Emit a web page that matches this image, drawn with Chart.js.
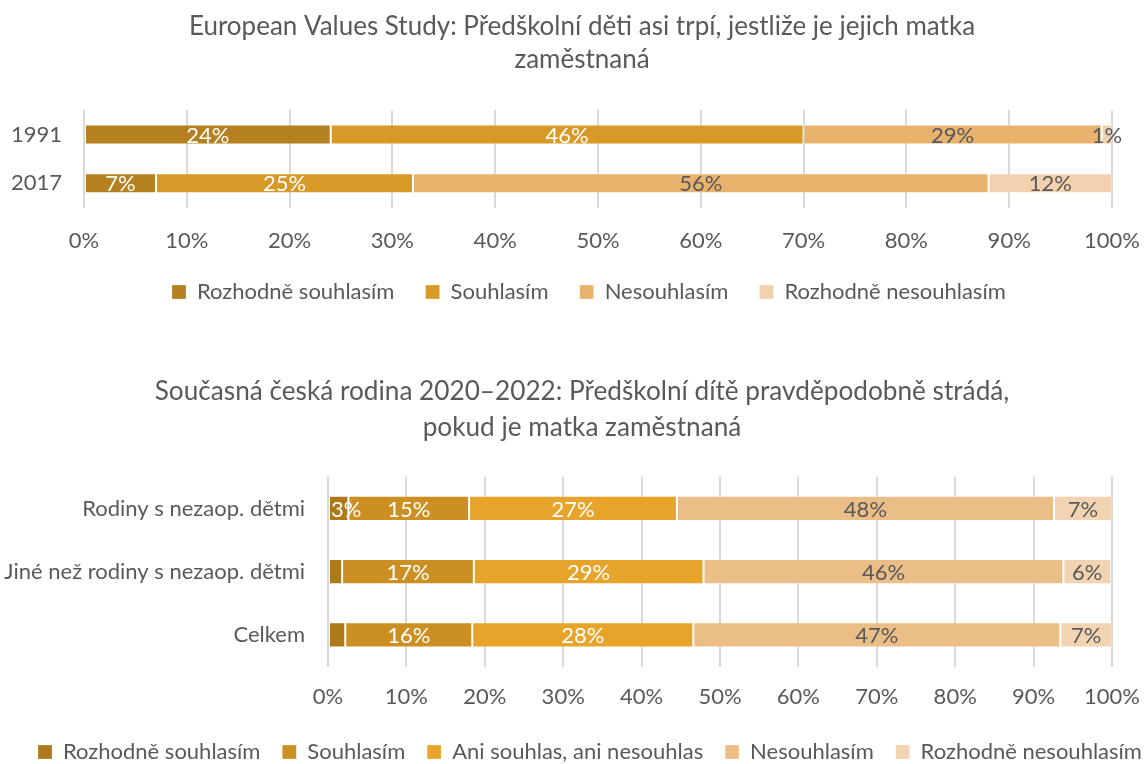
<!DOCTYPE html>
<html>
<head>
<meta charset="utf-8">
<script src="https://cdn.jsdelivr.net/npm/chart.js@4"></script>
<style>
  html, body { margin: 0; background: #fff; overflow: hidden; }
  canvas { display: block; position: absolute; left: 0; }
  #evs { top: 0; }
  #rodina { top: 340px; }
</style>
</head>
<body>
<canvas id="evs" width="1145" height="313"></canvas>
<canvas id="rodina" width="1145" height="433"></canvas>
<script>
// EVS chart
const evsYears = ['1991', '2017'];
const evsSeries = ['Rozhodně souhlasím', 'Souhlasím', 'Nesouhlasím', 'Rozhodně nesouhlasím'];
const evsValues = [
    [24, 7],
    [46, 25],
    [29, 56],
    [1, 12]
];
const evsColors = ['#B5801F', '#D89A26', '#E9B36E', '#F1D1AE'];

// Současná česká rodina chart
const rodGroups = ['Rodiny s nezaop. dětmi', 'Jiné než rodiny s nezaop. dětmi', 'Celkem'];
const rodSeries = ['Rozhodně souhlasím', 'Souhlasím', 'Ani souhlas, ani nesouhlas', 'Nesouhlasím', 'Rozhodně nesouhlasím'];
const rodValues = [
    [2.6, 1.8, 2.2],
    [15.4, 16.8, 16.2],
    [26.5, 29.3, 28.2],
    [48.1, 45.9, 46.8],
    [7.4, 6.1, 6.6]
];
const rodColors = ['#AE791B', '#CB8F22', '#E6A52A', '#EBBE87', '#F2D4B3'];

const xTicks = [0, 10, 20, 30, 40, 50, 60, 70, 80, 90, 100];

const FONT = 'Lato, "Noto Sans", sans-serif';
const GREY = '#595959';

// draws the % labels inside the bar segments
const segmentLabels = {
    id: 'segmentLabels',
    afterDatasetsDraw(chart, args, opts) {
        const ctx = chart.ctx;
        ctx.save();
        ctx.font = '22px ' + FONT;
        ctx.textAlign = 'center';
        ctx.textBaseline = 'middle';
        chart.data.datasets.forEach(function(ds, i) {
            const meta = chart.getDatasetMeta(i);
            meta.data.forEach(function(bar, j) {
                const v = ds.data[j];
                if (v < opts.minValue) return;
                const text = Math.round(v) + '%';
                let x = (bar.x + bar.base) / 2;
                const w = ctx.measureText(text).width;
                // first segment too narrow: keep the label starting at the axis
                if (i === 0 && w > bar.x - bar.base) x = bar.base + w / 2 + 2;
                ctx.fillStyle = i < opts.whiteCount ? '#ffffff' : GREY;
                ctx.fillText(text, x, bar.y + 1);
            });
        });
        ctx.restore();
    }
};

// legend gets a wide box (one row, starting at a fixed x), title is centred a bit right
const boxShift = {
    id: 'boxShift',
    afterInit(chart) {
        const legend = chart.legend;
        const fit = legend.fit;
        legend.fit = function() {
            const mw = this.maxWidth;
            this.maxWidth = chart.width + 200;
            fit.call(this);
            this.maxWidth = mw;
        };
    },
    afterLayout(chart, args, opts) {
        chart.titleBlock.left += opts.title;
        chart.titleBlock.right += opts.title;
        chart.legend.left = opts.legendLeft;
        chart.legend.right = chart.width + 200;
        chart.legend.width = chart.legend.right - chart.legend.left;
    }
};

function makeConfig(labels, series, values, colors, title, opts) {
    return {
        type: 'bar',
        data: {
            labels: labels,
            datasets: series.map(function(name, i) {
                return {
                    label: name,
                    data: values[i],
                    backgroundColor: colors[i],
                    borderColor: 'rgba(255,255,255,0.25)',
                    borderWidth: 1,
                    borderSkipped: false,
                    barPercentage: opts.barPct,
                    categoryPercentage: 1
                };
            })
        },
        options: {
            indexAxis: 'y',
            responsive: false,
            animation: false,
            layout: { padding: opts.padding },
            scales: {
                x: {
                    stacked: true,
                    min: 0,
                    max: 100,
                    afterBuildTicks: function(axis) {
                        axis.ticks = xTicks.map(function(v) { return { value: v }; });
                    },
                    afterFit: function(axis) {
                        axis.height += opts.xExtra;
                        axis.paddingLeft = 0;
                        axis.paddingRight = 0;
                    },
                    ticks: {
                        color: GREY,
                        font: { family: FONT, size: 22 },
                        padding: opts.xPad,
                        callback: function(v) { return v + '%'; }
                    },
                    grid: { color: '#D9D9D9', lineWidth: 2, drawTicks: false },
                    border: { display: false }
                },
                y: {
                    stacked: true,
                    afterFit: function(axis) { axis.width = opts.yWidth; },
                    ticks: {
                        color: GREY,
                        font: { family: FONT, size: 22 },
                        padding: opts.yPad
                    },
                    grid: { display: false, drawTicks: false },
                    border: { display: false }
                }
            },
            plugins: {
                title: {
                    display: true,
                    text: title,
                    color: GREY,
                    font: { family: FONT, size: opts.titleSize, weight: 'normal', lineHeight: opts.titleLine },
                    padding: opts.titlePadding
                },
                legend: {
                    position: 'bottom',
                    align: 'start',
                    labels: {
                        color: GREY,
                        font: { family: FONT, size: 22 },
                        boxWidth: 14,
                        boxHeight: 14,
                        padding: opts.legendPad,
                        generateLabels: function(chart) {
                            const items = Chart.defaults.plugins.legend.labels.generateLabels(chart);
                            items.forEach(function(it, i) {
                                if (i < items.length - 1) it.text += opts.legendSpaces;
                            });
                            return items;
                        }
                    }
                },
                tooltip: { enabled: false },
                segmentLabels: { minValue: opts.minValue, whiteCount: opts.whiteCount },
                boxShift: { title: opts.titleShift, legendLeft: opts.legendLeft }
            }
        },
        plugins: [segmentLabels, boxShift]
    };
}

new Chart(document.getElementById('evs'), makeConfig(
    evsYears, evsSeries, evsValues, evsColors,
    ['European Values Study: Předškolní děti asi trpí, jestliže je jejich matka', 'zaměstnaná'],
    { barPct: 0.41, padding: { left: 10, right: 33, top: 0, bottom: 0 },
      titleSize: 26, titleLine: 1.27, titlePadding: { top: 10, bottom: 34 },
      xPad: 20, xExtra: 4, yWidth: 74, yPad: 22,
      legendPad: 3, legendSpaces: '     ', titleShift: 21, legendLeft: 169,
      minValue: 0, whiteCount: 2 }
));

new Chart(document.getElementById('rodina'), makeConfig(
    rodGroups, rodSeries, rodValues, rodColors,
    ['Současná česká rodina 2020–2022: Předškolní dítě pravděpodobně strádá,', 'pokud je matka zaměstnaná'],
    { barPct: 0.4, padding: { left: 0, right: 33, top: 0, bottom: 0 },
      titleSize: 26.2, titleLine: 1.37, titlePadding: { top: 34, bottom: 31 },
      xPad: 17, xExtra: 9, yWidth: 328, yPad: 23,
      legendPad: 5, legendSpaces: '   ', titleShift: 26, legendLeft: 33,
      minValue: 2.5, whiteCount: 3 }
));
</script>
</body>
</html>
